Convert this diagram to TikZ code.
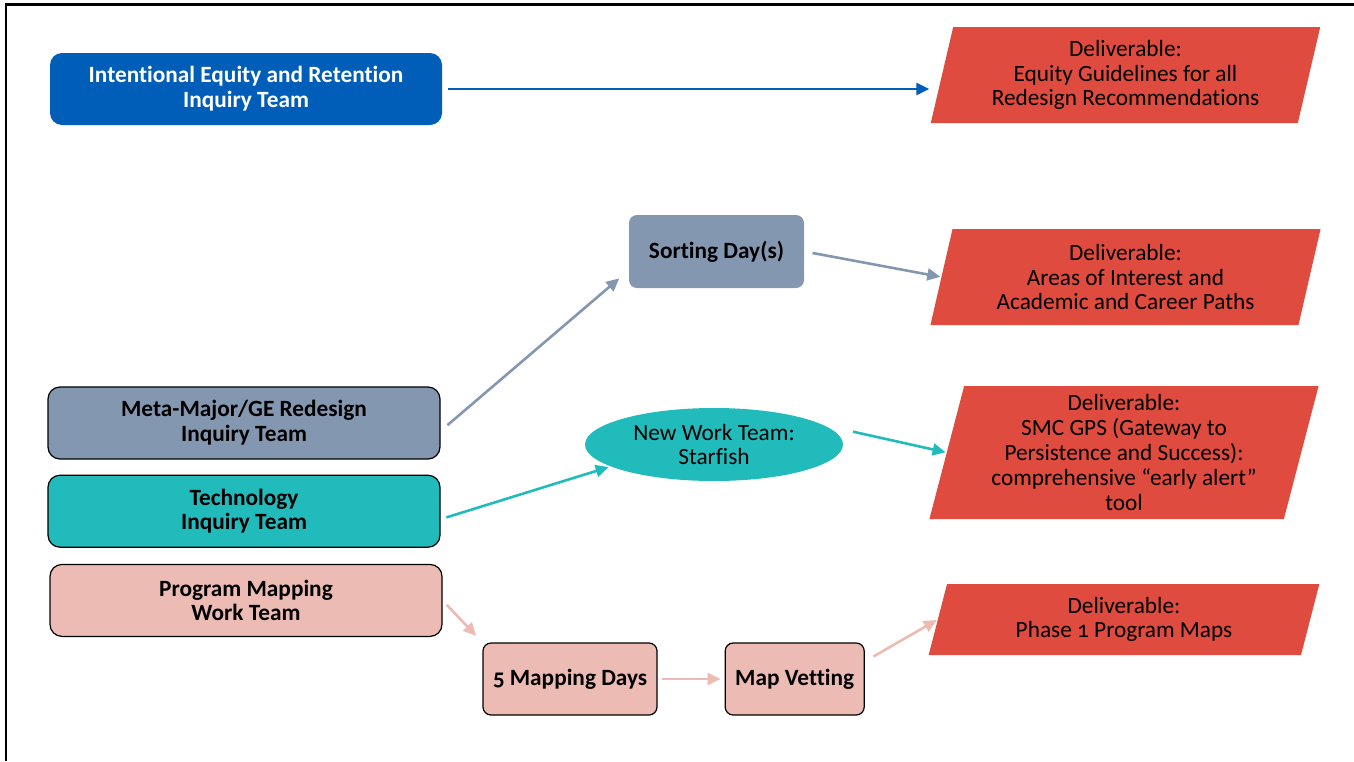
\documentclass[tikz,border=0pt]{standalone}
\usepackage{fontspec}
\setmainfont[Numbers=OldStyle, Ligatures=NoCommon]{Carlito}
\usetikzlibrary{shapes.geometric, arrows.meta, positioning}
\definecolor{teamblue}{RGB}{0,94,184}
\definecolor{slate}{RGB}{132,151,176}
\definecolor{teal}{RGB}{34,187,187}
\definecolor{blush}{RGB}{236,187,180}
\definecolor{delred}{RGB}{224,75,63}
\newcommand{\boxfont}{\fontsize{23.3}{24.8}\selectfont}
\tikzstyle{team} = [rectangle, rounded corners=12pt, minimum width=392pt, minimum height=72pt, text centered, align=center, draw=black, line width=1.2pt, font=\boxfont\bfseries]
\tikzstyle{day} = [rectangle, rounded corners=8pt, minimum height=72pt, text centered, draw=black, line width=1.2pt, fill=blush, font=\boxfont\bfseries]
\tikzstyle{deliverable} = [trapezium, trapezium left angle=76, trapezium right angle=104, trapezium stretches=true, minimum width=391pt, minimum height=96pt, inner sep=0pt, text centered, align=center, fill=delred, font=\boxfont]
\tikzstyle{arrow} = [line width=2.6pt, -{Triangle[length=13pt,width=12pt]}]

\begin{document}
\begin{tikzpicture}[x=1pt, y=-1pt]
		\useasboundingbox (0,0) rectangle (1354,761);
		\draw [line width=2.6pt] (6,761) -- (6,4.5) -- (1354,4.5);
		% teams and steps
		\node (intent) [team, fill=teamblue, draw=none, text=white] at (246,89) {Intentional Equity and Retention\\Inquiry Team};
		\node (sort) [day, fill=slate, draw=none, minimum width=175pt, minimum height=73pt] at (716.5,251.5) {Sorting Day(s)};
		\node (meta) [team, fill=slate] at (244,423) {Meta-Major/GE Redesign\\Inquiry Team};
		\node (tech) [team, fill=teal, below=15pt of meta] {Technology\\Inquiry Team};
		\node (prog) [team, fill=blush, below=16pt of tech, xshift=2pt] {Program Mapping\\Work Team};
		\node (star) [ellipse, fill=teal, minimum width=258pt, minimum height=73pt, inner sep=0pt, align=center, font=\boxfont] at (714,444.5) {New Work Team:\\Starfish};
		\node (mapdays) [day, minimum width=174pt] at (570,679) {5 Mapping Days};
		\node (vetting) [day, minimum width=139pt, right=67pt of mapdays] {Map Vetting};
		% deliverables
		\node (deliv1) [deliverable] at (1125.5,75) {Deliverable:\\Equity Guidelines for all\\Redesign Recommendations};
		\node (deliv2) [deliverable] at (1125.5,277) {Deliverable:\\Areas of Interest and\\Academic and Career Paths};
		\node (deliv3) [deliverable, minimum height=133pt] at (1124,452.5) {Deliverable:\\SMC GPS (Gateway to\\Persistence and Success):\\comprehensive “early alert”\\tool};
		\node (deliv4) [deliverable, minimum height=71pt] at (1124,619.5) {Deliverable:\\Phase 1 Program Maps};
		% arrows
		\draw [arrow, teamblue, shorten <=5pt, shorten >=12.5pt] (intent.east) -- (intent.east -| deliv1.west);
		\draw [arrow, slate, shorten <=9pt, shorten >=12pt] ([yshift=-8pt]meta.east) -- ([yshift=18pt]sort.south west);
		\draw [arrow, slate, shorten <=8pt, shorten >=1pt] (sort.east) -- (deliv2.west);
		\draw [arrow, teal, shorten <=6pt, shorten >=2pt] ([yshift=-8pt]tech.east) -- (star.192);
		\draw [arrow, teal, shorten <=30pt, shorten >=1pt] (star.10) -- (deliv3.west);
		\draw [arrow, blush, shorten <=6pt, shorten >=9pt] (prog.east) -- (mapdays.north west);
		\draw [arrow, blush, shorten <=4pt, shorten >=4pt] (mapdays.east) -- (vetting.west);
		\draw [arrow, blush, shorten <=10pt, shorten >=1pt] ([yshift=17.5pt]vetting.east) -- (deliv4.west);
	\end{tikzpicture}
\end{document}
